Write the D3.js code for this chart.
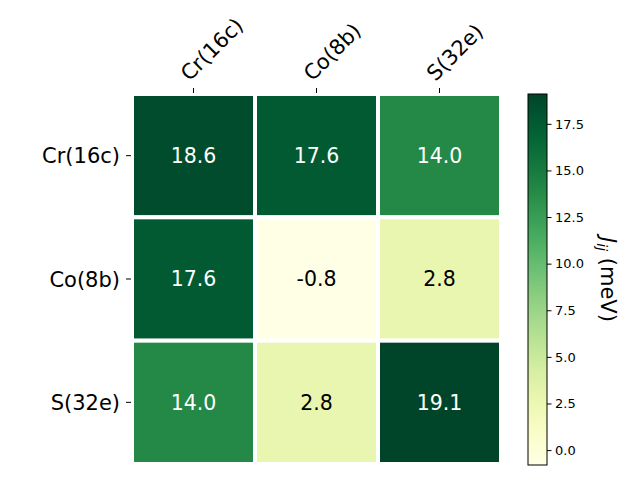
<!DOCTYPE html>
<html><head><meta charset="utf-8">
<script src="https://cdn.jsdelivr.net/npm/d3@7"></script>
<style>body{margin:0;background:#fff}svg{font-family:"DejaVu Sans",sans-serif}</style>
</head><body><svg id="c" width="640" height="480"></svg>
<script>
const rowLabels = ["Cr(16c)", "Co(8b)", "S(32e)"];
const colLabels = ["Cr(16c)", "Co(8b)", "S(32e)"];
const values = [
  [18.6, 17.6, 14.0],
  [17.6, -0.8, 2.8],
  [14.0, 2.8, 19.1]
];
const cbTicks = [0.0, 2.5, 5.0, 7.5, 10.0, 12.5, 15.0, 17.5];
const vmin = -0.8, vmax = 19.1;

const svg = d3.select("#c");
const L = 132, R = 501, T = 94, B = 464;
const x = d3.scaleBand().domain(d3.range(3)).range([L, R]).padding(0);
const y = d3.scaleBand().domain(d3.range(3)).range([T, B]).padding(0);
const color = v => d3.interpolateYlGn((v - vmin) / (vmax - vmin));

const cells = [];
values.forEach((row, i) => row.forEach((v, j) => cells.push({i, j, v})));

svg.selectAll("rect.cell").data(cells).enter().append("rect")
  .attr("x", d => x(d.j)).attr("y", d => y(d.i))
  .attr("width", x.bandwidth()).attr("height", y.bandwidth())
  .attr("fill", d => color(d.v))
  .attr("stroke", "#fff").attr("stroke-width", 4);

svg.selectAll("text.val").data(cells).enter().append("text")
  .attr("x", d => x(d.j) + x.bandwidth() / 2)
  .attr("y", d => y(d.i) + y.bandwidth() / 2)
  .attr("dy", "0.36em").attr("text-anchor", "middle")
  .attr("font-size", 20.5)
  .attr("fill", d => d.v > 8 ? "#fff" : "#000")
  .text(d => d.v.toFixed(1));

// top x axis
const xg = svg.append("g");
colLabels.forEach((lab, j) => {
  const cx = x(j) + x.bandwidth() / 2;
  xg.append("line").attr("x1", cx).attr("x2", cx).attr("y1", T - 1).attr("y2", T - 6)
    .attr("stroke", "#000").attr("stroke-width", 1);
  xg.append("text").attr("transform", `translate(${cx - 4},${T - 12}) rotate(-45)`)
    .attr("font-size", 21).attr("text-anchor", "start").text(lab);
});
// left y axis
const yg = svg.append("g");
rowLabels.forEach((lab, i) => {
  const cy = y(i) + y.bandwidth() / 2;
  yg.append("line").attr("x1", L - 1).attr("x2", L - 6).attr("y1", cy).attr("y2", cy)
    .attr("stroke", "#000").attr("stroke-width", 1);
  yg.append("text").attr("x", L - 12).attr("y", cy).attr("dy", "0.36em")
    .attr("text-anchor", "end").attr("font-size", 21).text(lab);
});

// colorbar
const cbL = 528, cbW = 19, cbT = 94, cbB = 465;
const cy = d3.scaleLinear().domain([vmin, vmax]).range([cbB, cbT]);
const defs = svg.append("defs");
const grad = defs.append("linearGradient").attr("id", "g").attr("x1", 0).attr("y1", 1).attr("x2", 0).attr("y2", 0);
d3.range(0, 1.0001, 0.05).forEach(t => grad.append("stop").attr("offset", t).attr("stop-color", d3.interpolateYlGn(t)));
svg.append("rect").attr("x", cbL).attr("y", cbT).attr("width", cbW).attr("height", cbB - cbT)
  .attr("fill", "url(#g)").attr("stroke", "#000").attr("stroke-width", 1);
const ax = d3.axisRight(cy).tickValues(cbTicks).tickFormat(d3.format(".1f")).tickSize(4.5).tickPadding(3.5);
const ag = svg.append("g").attr("transform", `translate(${cbL + cbW},0)`).call(ax);
ag.select(".domain").remove();
ag.selectAll("text").attr("font-size", 13).attr("font-family", "DejaVu Sans");

const lab = svg.append("text").attr("transform", `translate(601,${(cbT + cbB) / 2}) rotate(90)`)
  .attr("text-anchor", "middle").attr("font-size", 21);
lab.append("tspan").attr("font-style", "italic").text("J");
lab.append("tspan").attr("font-style", "italic").attr("font-size", 14).attr("dy", 4).text("ij");
lab.append("tspan").attr("dy", -4).text(" (meV)");
</script></body></html>
